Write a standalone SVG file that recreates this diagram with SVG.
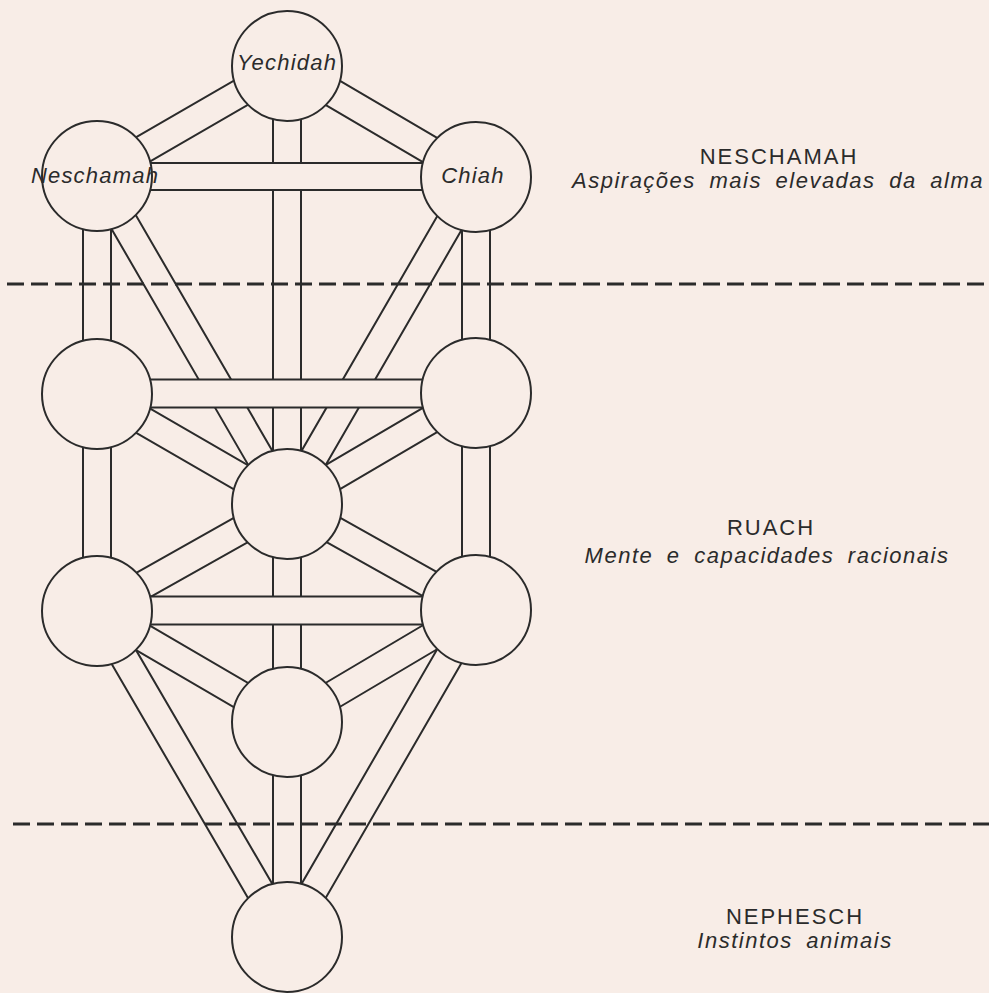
<svg xmlns="http://www.w3.org/2000/svg" width="989" height="993" viewBox="0 0 989 993">
  <style>
    .ch { fill: #f8ede7; stroke: #2b2b2b; stroke-width: 2; stroke-linejoin: miter; }
    .node { fill: #f8ede7; stroke: #2b2b2b; stroke-width: 2; }
    .sep { stroke: #2b2b2b; stroke-width: 3.2; stroke-dasharray: 17 7; fill: none; }
    .name { font-family: "Liberation Sans", Arial, sans-serif; font-style: italic; font-size: 22px; letter-spacing: 1.2px; fill: #2b2b2b; text-anchor: middle; }
    .level { font-family: "Liberation Sans", Arial, sans-serif; font-size: 22px; letter-spacing: 2px; fill: #2b2b2b; text-anchor: middle; }
    .desc { font-family: "Liberation Sans", Arial, sans-serif; font-style: italic; font-size: 22px; letter-spacing: 1.5px; word-spacing: 6px; fill: #2b2b2b; text-anchor: middle; }
  </style>

  <rect x="0" y="0" width="989" height="993" fill="#f8ede7"/>

  <!-- channels between the spheres, drawn as open double-lined bands -->
  <g id="connectors">
    <!-- verticals and diagonals (under the horizontal bars) -->
    <rect class="ch" x="273" y="66" width="28" height="438"/>
    <rect class="ch" x="273" y="504" width="28" height="218"/>
    <rect class="ch" x="273" y="722" width="28" height="215"/>
    <rect class="ch" x="83" y="176" width="28" height="218"/>
    <rect class="ch" x="83" y="394" width="28" height="217"/>
    <rect class="ch" x="462" y="177" width="28" height="216"/>
    <rect class="ch" x="462" y="393" width="28" height="217"/>

    <polygon class="ch" points="294.0,78.1 104.0,188.1 90.0,163.9 280.0,53.9"/>
    <polygon class="ch" points="279.9,78.1 468.9,189.1 483.1,164.9 294.1,53.9"/>
    <polygon class="ch" points="84.9,183.0 274.9,511.0 299.1,497.0 109.1,169.0"/>
    <polygon class="ch" points="488.1,184.0 299.1,511.0 274.9,497.0 463.9,170.0"/>
    <polygon class="ch" points="90.0,406.1 280.0,516.1 294.0,491.9 104.0,381.9"/>
    <polygon class="ch" points="483.1,405.1 294.1,516.1 279.9,491.9 468.9,380.9"/>
    <polygon class="ch" points="293.9,516.2 103.9,623.2 90.1,598.8 280.1,491.8"/>
    <polygon class="ch" points="280.2,516.2 469.2,622.2 482.9,597.8 293.9,491.8"/>
    <polygon class="ch" points="89.9,623.1 279.9,734.1 294.1,709.9 104.1,598.9"/>
    <polygon class="ch" points="483.1,622.0 294.1,734.0 279.9,710.0 468.9,598.0"/>
    <polygon class="ch" points="84.9,618.1 274.9,944.1 299.1,929.9 109.1,603.9"/>
    <polygon class="ch" points="488.1,617.0 299.1,944.0 274.9,930.0 463.9,603.0"/>

    <!-- horizontal bars -->
    <rect class="ch" x="97" y="163" width="379" height="27"/>
    <rect class="ch" x="97" y="379.5" width="379" height="28"/>
    <rect class="ch" x="97" y="596.5" width="379" height="28"/>
  </g>

  <!-- spheres -->
  <g id="yechidah">
    <circle class="node" cx="287" cy="66" r="55"/>
    <text class="name" x="287" y="70">Yechidah</text>
  </g>
  <g id="neschamah">
    <circle class="node" cx="97" cy="176" r="55"/>
    <text class="name" x="95" y="183">Neschamah</text>
  </g>
  <g id="chiah">
    <circle class="node" cx="476" cy="177" r="55"/>
    <text class="name" x="473" y="183">Chiah</text>
  </g>
  <g id="chesed"><circle class="node" cx="97" cy="394" r="55"/></g>
  <g id="geburah"><circle class="node" cx="476" cy="393" r="55"/></g>
  <g id="tiphareth"><circle class="node" cx="287" cy="504" r="55"/></g>
  <g id="netzach"><circle class="node" cx="97" cy="611" r="55"/></g>
  <g id="hod"><circle class="node" cx="476" cy="610" r="55"/></g>
  <g id="yesod"><circle class="node" cx="287" cy="722" r="55"/></g>
  <g id="malkuth"><circle class="node" cx="287" cy="937" r="55"/></g>

  <!-- level separators -->
  <g id="separators">
    <line class="sep" x1="7" y1="284" x2="989" y2="284"/>
    <line class="sep" x1="13" y1="824" x2="989" y2="824"/>
  </g>

  <!-- level captions -->
  <g id="level-neschamah">
    <text class="level" x="779" y="164">NESCHAMAH</text>
    <text class="desc" x="778" y="188">Aspirações mais elevadas da alma</text>
  </g>
  <g id="level-ruach">
    <text class="level" x="771" y="535">RUACH</text>
    <text class="desc" x="767" y="563">Mente e capacidades racionais</text>
  </g>
  <g id="level-nephesch">
    <text class="level" x="795" y="924">NEPHESCH</text>
    <text class="desc" x="795" y="948">Instintos animais</text>
  </g>
</svg>
